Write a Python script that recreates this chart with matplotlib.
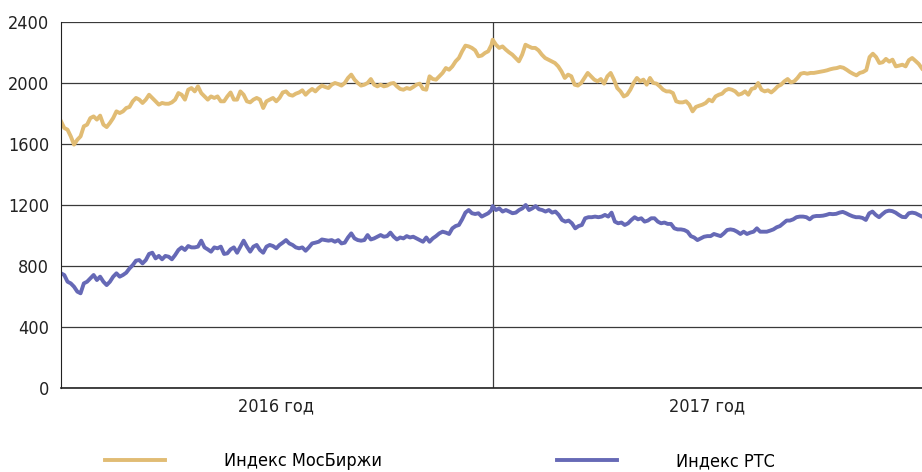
import pandas as pd
import matplotlib.pyplot as plt
from matplotlib import font_manager, ft2font

# values, roughly one point every 2-3 days
mosex_2016 = [
    1749, 1705, 1694, 1650, 1596, 1628, 1650, 1716, 1727, 1770, 1781, 1760, 1786, 1727, 1711, 1738, 1770,
    1814, 1803, 1814, 1836, 1843, 1880, 1902, 1891, 1869, 1891, 1923, 1902, 1880, 1858, 1869, 1864,
    1864, 1873, 1891, 1934, 1923, 1891, 1956, 1967, 1945, 1978, 1934, 1912, 1891, 1912, 1902, 1912,
    1880, 1880, 1912, 1938, 1891, 1891, 1945, 1923, 1880, 1873, 1891, 1902, 1891, 1836, 1880, 1891,
    1902, 1880, 1902, 1938, 1945, 1923, 1917, 1930, 1938, 1952, 1923, 1945, 1961, 1945, 1967, 1983,
    1974, 1967, 1989, 2000, 1993, 1983, 2000, 2033, 2055, 2022, 2000, 1983, 1989, 2000, 2026, 1989, 1978,
    1989, 1978, 1983, 1996, 2000, 1978, 1961, 1956, 1967, 1961, 1974, 1989, 1996, 1961, 1956, 2044,
    2026, 2022, 2044, 2066, 2098, 2087, 2109, 2142, 2164, 2208, 2245, 2240, 2230, 2214, 2175, 2180, 2197,
    2208, 2251,
]
mosex_2017 = [
    2284, 2251, 2230, 2240, 2219, 2201, 2186, 2164, 2142, 2186, 2251, 2240, 2230, 2230, 2214, 2186, 2164,
    2153, 2142, 2131, 2109, 2076, 2033, 2055, 2044, 1989, 1983, 2000, 2033, 2066, 2044, 2022, 2011,
    2026, 1996, 2044, 2066, 2022, 1967, 1945, 1912, 1923, 1956, 2000, 2033, 2011, 2022, 1989, 2033,
    2000, 1996, 1978, 1956, 1945, 1945, 1934, 1880, 1873, 1873, 1880, 1858, 1814, 1843, 1851, 1858, 1869, 1891,
    1880, 1912, 1923, 1930, 1952, 1961, 1956, 1945, 1923, 1930, 1945, 1923, 1961, 1967, 2000, 1956,
    1945, 1952, 1938, 1956, 1978, 1989, 2011, 2026, 2004, 2011, 2033, 2061, 2066, 2061, 2066, 2066,
    2070, 2074, 2078, 2083, 2090, 2095, 2098, 2105, 2100, 2087, 2072, 2060, 2050, 2066, 2072, 2085,
    2170, 2192, 2170, 2131, 2136, 2158, 2140, 2153, 2109, 2114, 2120, 2109, 2150, 2164, 2145, 2125, 2095,
]
rts_2016 = [
    752, 741, 697, 686, 664, 632, 621, 686, 697, 719, 741, 708, 730, 697, 675, 697, 730,
    752, 730, 741, 756, 784, 806, 835, 839, 817, 839, 879, 887, 850, 866, 844, 866,
    861, 844, 872, 905, 922, 905, 931, 922, 922, 927, 966, 922, 909, 894, 922, 916,
    927, 879, 883, 909, 922, 887, 927, 966, 927, 894, 927, 938, 905, 887, 927, 938,
    931, 916, 938, 953, 970, 948, 938, 922, 916, 922, 900, 922, 948, 953, 959, 974,
    970, 966, 970, 959, 970, 948, 953, 987, 1014, 981, 970, 966, 970, 1003, 974, 981,
    992, 1003, 992, 996, 1019, 992, 974, 987, 981, 996, 987, 992, 981, 970, 959, 987,
    959, 981, 996, 1014, 1025, 1019, 1010, 1047, 1062, 1069, 1106, 1150, 1167, 1146, 1141, 1146, 1124, 1135,
    1146, 1167,
]
rts_2017 = [
    1193, 1167, 1178, 1157, 1167, 1157, 1146, 1150, 1167, 1178, 1200, 1167, 1178, 1193, 1172, 1167, 1157,
    1167, 1150, 1157, 1135, 1102, 1091, 1098, 1080, 1047, 1062, 1069, 1113, 1120, 1120, 1124, 1120,
    1124, 1135, 1124, 1150, 1091, 1080, 1085, 1069, 1080, 1102, 1120, 1106, 1113, 1091, 1098, 1113,
    1113, 1091, 1080, 1085, 1076, 1076, 1047, 1040, 1040, 1036, 1025, 996, 987, 970, 981, 992, 996,
    996, 1010, 1003, 996, 1014, 1036, 1040, 1036, 1025, 1010, 1025, 1010, 1019, 1025, 1047, 1025,
    1025, 1025, 1032, 1040, 1054, 1062, 1080, 1098, 1098, 1106, 1120, 1124, 1124, 1120, 1106, 1124,
    1128, 1128, 1130, 1135, 1142, 1140, 1142, 1150, 1155, 1146, 1135, 1126, 1120, 1120, 1115, 1102,
    1145, 1157, 1135, 1120, 1140, 1157, 1163, 1160, 1150, 1135, 1122, 1120, 1146, 1150, 1146, 1135, 1124,
]
year_labels = ["2016 год", "2017 год"]
series_labels = ["Индекс МосБиржи", "Индекс РТС"]
y_ticks = [0, 400, 800, 1200, 1600, 2000, 2400]


def has_cyrillic(path):
    try:
        return ord("Д") in ft2font.FT2Font(path).get_charmap()
    except Exception:
        return False


# the reference uses a narrow face with Cyrillic; pick one if installed
narrow = [f for f in font_manager.fontManager.ttflist
          if ("Narrow" in f.name or "Condensed" in f.name
              or f.stretch in ("condensed", "semi-condensed", 600, 700))
          and f.weight in ("normal", "regular", 400) and f.style == "normal"
          and has_cyrillic(f.fname)]
narrow.sort(key=lambda f: (f.name != "Liberation Sans Narrow", f.name != "DejaVu Sans"))
if narrow:
    plt.rcParams['font.family'] = [narrow[0].name, 'DejaVu Sans']
    plt.rcParams['font.stretch'] = narrow[0].stretch
else:
    plt.rcParams['font.family'] = ['DejaVu Sans']
label_size = 13


def year_dates(year, n):
    return pd.date_range(f"{year}-01-01", f"{year}-12-31", periods=n)


mosex = pd.Series(mosex_2016 + mosex_2017,
                  index=year_dates(2016, len(mosex_2016)).append(year_dates(2017, len(mosex_2017))))
rts = pd.Series(rts_2016 + rts_2017,
                index=year_dates(2016, len(rts_2016)).append(year_dates(2017, len(rts_2017))))

fig = plt.figure(figsize=(9.22, 4.72), dpi=100)
ax = fig.add_axes([61 / 922, 1 - 388 / 472, 1 - 61 / 922, 366 / 472])

line_mosex, = ax.plot(mosex.index, mosex.values, color="#E1BC74", lw=2.8)
line_rts, = ax.plot(rts.index, rts.values, color="#6669B6", lw=2.8)

ax.set_ylim(0, 2400)
ax.set_yticks(y_ticks)
ax.set_xlim(pd.Timestamp("2016-01-01"), pd.Timestamp("2017-12-31"))

# year separator as the only major x tick, year names as minor ticks
ax.set_xticks([pd.Timestamp("2017-01-01")])
ax.set_xticklabels([""])
ax.set_xticks([pd.Timestamp("2016-07-01"), pd.Timestamp("2017-07-02")], minor=True)
ax.set_xticklabels(year_labels, minor=True)

ax.grid(True, which="major", color="#3a3a3a", lw=0.9)
ax.set_axisbelow(True)
ax.tick_params(axis="both", which="both", length=0, labelsize=label_size, colors="#222222")
ax.tick_params(axis="y", pad=8.5)
ax.tick_params(axis="x", which="minor", pad=7)

for side in ["top", "right"]:
    ax.spines[side].set_visible(False)
ax.spines["left"].set_color("#222222")
ax.spines["bottom"].set_color("#222222")
ax.spines["bottom"].set_linewidth(1.2)

# two legend entries, each anchored where the reference puts it
leg_kw = dict(loc="center left", frameon=False, fontsize=label_size, handlelength=3.3,
              handletextpad=3.3, borderpad=0, borderaxespad=0)
fig.legend([line_mosex], [series_labels[0]], bbox_to_anchor=(105 / 922, 1 - 461 / 472), **leg_kw)
fig.legend([line_rts], [series_labels[1]], bbox_to_anchor=(557 / 922, 1 - 461 / 472), **leg_kw)

plt.savefig("out.png", dpi=100)
